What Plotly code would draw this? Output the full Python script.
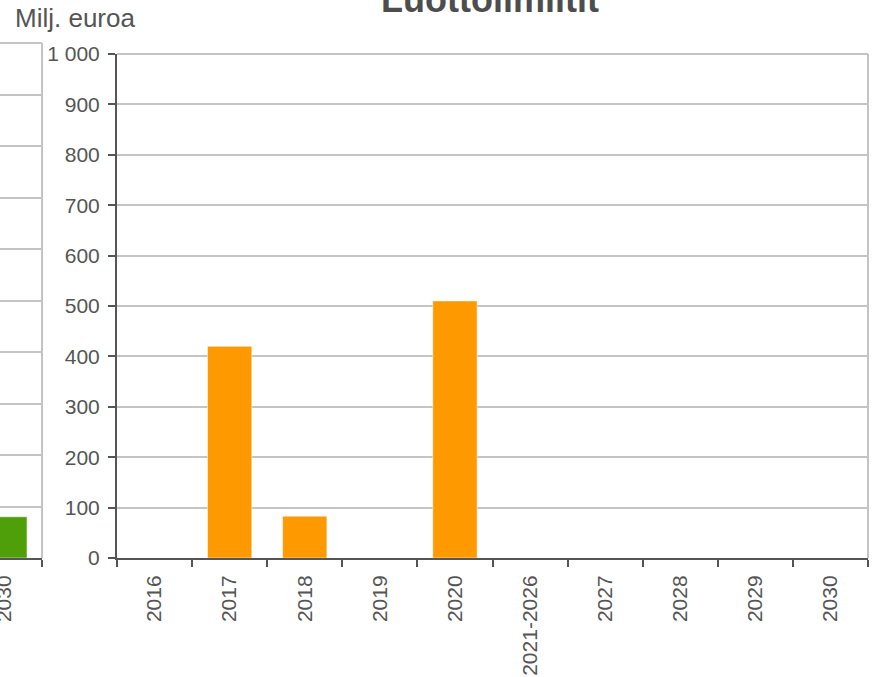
import plotly.graph_objects as go

# ---- data ----
categories = ["2016", "2017", "2018", "2019", "2020", "2021-2026", "2027", "2028", "2029", "2030"]
credit_limits = [0, 420, 83, 0, 510, 0, 0, 0, 0, 0]

left_categories = ["2030"]
left_values = [80]

y_tick_vals = [0, 100, 200, 300, 400, 500, 600, 700, 800, 900, 1000]
y_tick_text = ["0", "100", "200", "300", "400", "500", "600", "700", "800", "900", "1 000"]

title_text = "Luottolimiitit"
unit_text = "Milj. euroa"

# ---- style ----
W, H = 874, 677
ML, MR, MT, MB = 0, 6, 43, 119
PW = W - ML - MR
PH = H - MT - MB
FONT = "Liberation Sans, Arial, sans-serif"
TXT = "#555555"
AX = "#555555"
GRID = "#c4c4c4"

fig = go.Figure()

fig.add_trace(go.Bar(
    x=left_categories, y=left_values, xaxis="x", yaxis="y",
    marker=dict(color="#4e9f0a", line=dict(color="rgba(255,255,255,0.5)", width=1)),
    width=0.6, showlegend=False, hoverinfo="skip",
))
fig.add_trace(go.Bar(
    x=categories, y=credit_limits, xaxis="x2", yaxis="y2",
    marker=dict(color="#ff9900", line=dict(color="rgba(255,255,255,0.5)", width=1)),
    width=0.59, showlegend=False,
))

x_left_end = 42 / PW
x_right_start = 117 / PW
y_right_top = 504 / PH

common_x = dict(
    type="category", showgrid=False, showline=True, linecolor=AX, linewidth=2,
    ticks="outside", ticklen=7, tickwidth=2, tickcolor=AX, tickson="boundaries",
    tickangle=-90, tickfont=dict(family=FONT, size=21, color=TXT),
    fixedrange=True, zeroline=False, automargin=False, ticklabelstandoff=7,
)
common_y = dict(
    range=[0, 1000], showgrid=True, gridcolor=GRID, gridwidth=1.5,
    tickvals=y_tick_vals, ticktext=y_tick_text, zeroline=False, fixedrange=True,
    tickfont=dict(family=FONT, size=21, color=TXT), automargin=False,
)

fig.update_layout(
    width=W, height=H,
    margin=dict(l=ML, r=MR, t=MT, b=MB),
    paper_bgcolor="white", plot_bgcolor="white",
    font=dict(family=FONT, color=TXT),
    xaxis=dict(common_x, domain=[0, x_left_end], anchor="y",
               categoryorder="array", categoryarray=left_categories,
               range=[-0.06, 0.5]),
    yaxis=dict(common_y, domain=[0, 1], anchor="x", showticklabels=False,
               showline=False, ticks=""),
    xaxis2=dict(common_x, domain=[x_right_start, 1], anchor="y2",
                categoryorder="array", categoryarray=categories,
                range=[-0.5, len(categories) - 0.5]),
    yaxis2=dict(common_y, domain=[0, y_right_top], anchor="x2",
                showline=True, linecolor=AX, linewidth=2,
                ticks="outside", ticklen=7, tickwidth=2, tickcolor=AX,
                ticklabelstandoff=4),
    bargap=0.4,
)

# plot-area borders (top and right) in light grey
for xr, yr in (("x domain", "y domain"), ("x2 domain", "y2 domain")):
    fig.add_shape(type="line", xref=xr, yref=yr, x0=0, x1=1, y0=1, y1=1,
                  line=dict(color=GRID, width=2), layer="below")
    fig.add_shape(type="line", xref=xr, yref=yr, x0=1, x1=1, y0=0, y1=1,
                  line=dict(color=GRID, width=2), layer="below")

fig.add_annotation(
    text=f"<b>{title_text}</b>", xref="paper", yref="paper",
    x=490 / PW, y=1 + (MT + 0.5) / PH, xanchor="center", yanchor="middle",
    showarrow=False, font=dict(family=FONT, size=36, color="#4d4d4d"),
)
fig.add_annotation(
    text=unit_text, xref="paper", yref="paper",
    x=13 / PW, y=1 + (MT - 18) / PH, xanchor="left", yanchor="middle",
    showarrow=False, font=dict(family=FONT, size=26, color=TXT),
)

fig.write_html(
    "out.html",
    config={"displayModeBar": False},
    post_script="document.body.style.margin='0';document.body.style.overflow='hidden';",
)
